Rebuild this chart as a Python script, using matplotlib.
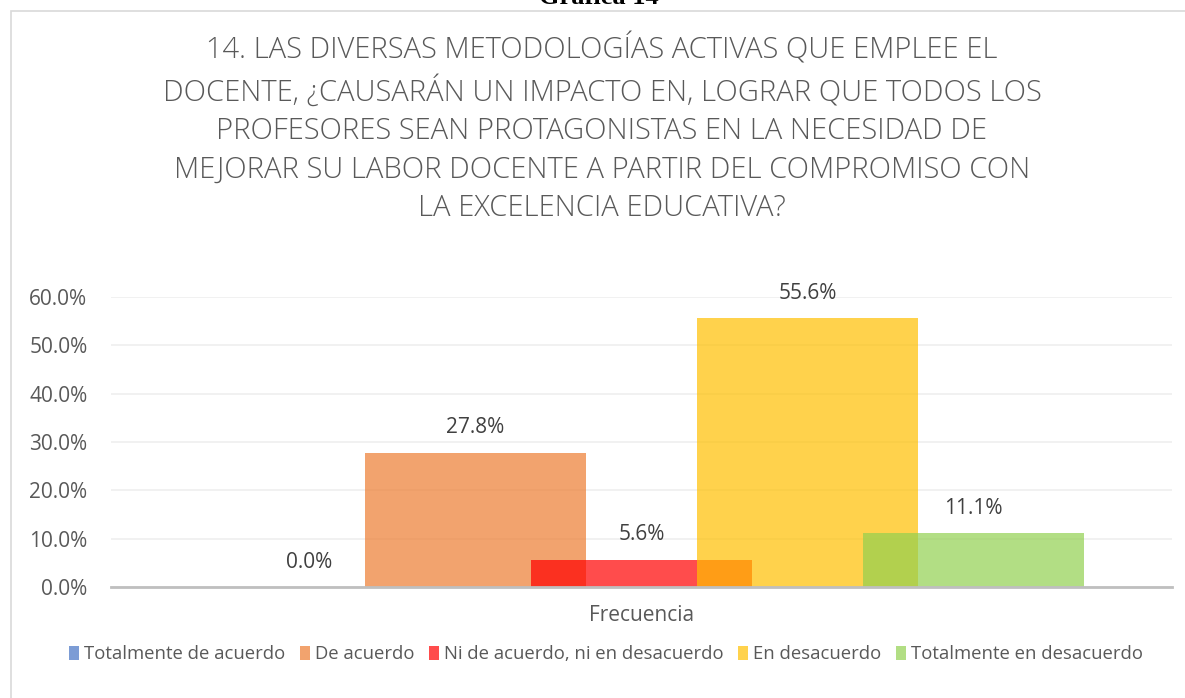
import matplotlib
matplotlib.use("Agg")
import matplotlib.pyplot as plt
from matplotlib.patches import Rectangle, Patch
import numpy as np

plt.rcParams['font.family'] = ['Open Sans', 'DejaVu Sans']

# data
series = ["Totalmente de acuerdo", "De acuerdo", "Ni de acuerdo, ni en desacuerdo",
          "En desacuerdo", "Totalmente en desacuerdo"]
values = [0.0, 0.278, 0.056, 0.556, 0.111]
colors = ["#4472C4", "#ED7D31", "#FF0000", "#FFC000", "#92D050"]
category = "Frecuencia"
yticks = [0.0, 0.1, 0.2, 0.3, 0.4, 0.5, 0.6]
title = ("14. LAS DIVERSAS METODOLOGÍAS ACTIVAS QUE EMPLEE EL\n"
         "DOCENTE, ¿CAUSARÁN UN IMPACTO EN, LOGRAR QUE TODOS LOS\n"
         "PROFESORES SEAN PROTAGONISTAS EN LA NECESIDAD DE\n"
         "MEJORAR SU LABOR DOCENTE A PARTIR DEL COMPROMISO CON\n"
         "LA EXCELENCIA EDUCATIVA?")

W, H = 1185, 698
fig = plt.figure(figsize=(W / 100, H / 100), dpi=100)

# chart border
fig.patches.append(Rectangle((11 / W, -0.05), 1.2, 1 - 11 / H + 0.05,
                             transform=fig.transFigure, fill=False,
                             edgecolor="#D9D9D9", linewidth=1.2))
fig.text(599 / W, 1 - 4 / H, "Gráfica 14", ha="center", va="baseline",
         family="Liberation Serif", fontweight="bold", fontsize=19)

fig.text(602 / W, 1 - 128 / H, title, ha="center", va="center",
         fontsize=21, fontweight="light", color="#595959", linespacing=1.39)

ax = fig.add_axes([111 / W, 1 - 587 / H, (1172 - 111) / W, (587 - 297) / H])
x = np.arange(len(values))
bars = ax.bar(x, values, width=1.333, color=colors, alpha=0.7, zorder=3)
for xi, v in zip(x, values):
    ax.annotate(f"{v * 100:.1f}%", (xi, v), xytext=(0, 18),
                textcoords="offset points", ha="center", va="center",
                fontsize=15, color="#404040", annotation_clip=False)

ax.set_xlim(-1.195, 5.195)
ax.set_ylim(0, 0.6)
ax.set_yticks(yticks)
ax.set_yticklabels([f"{t * 100:.1f}%" for t in yticks], fontsize=15, color="#595959")
ax.tick_params(axis="y", length=0, pad=17)
ax.set_xticks([2])
ax.set_xticklabels([category], fontsize=15, color="#595959")
ax.tick_params(axis="x", length=0, pad=13)
ax.grid(axis="y", color="#EFEFEF", linewidth=1.2, zorder=0)
for s in ["top", "right", "left"]:
    ax.spines[s].set_visible(False)
ax.spines["bottom"].set_color("#BFBFBF")
ax.spines["bottom"].set_linewidth(2)
ax.spines["bottom"].set_zorder(4)

handles = [Patch(facecolor=c, alpha=0.7) for c in colors]
fig.legend(handles, series, loc="center", bbox_to_anchor=(606 / W, 1 - 654 / H),
           ncol=5, frameon=False, fontsize=13.3, handlelength=0.55, handleheight=0.8,
           handletextpad=0.25, columnspacing=0.8, labelcolor="#595959")

fig.savefig("out.png", dpi=100)
